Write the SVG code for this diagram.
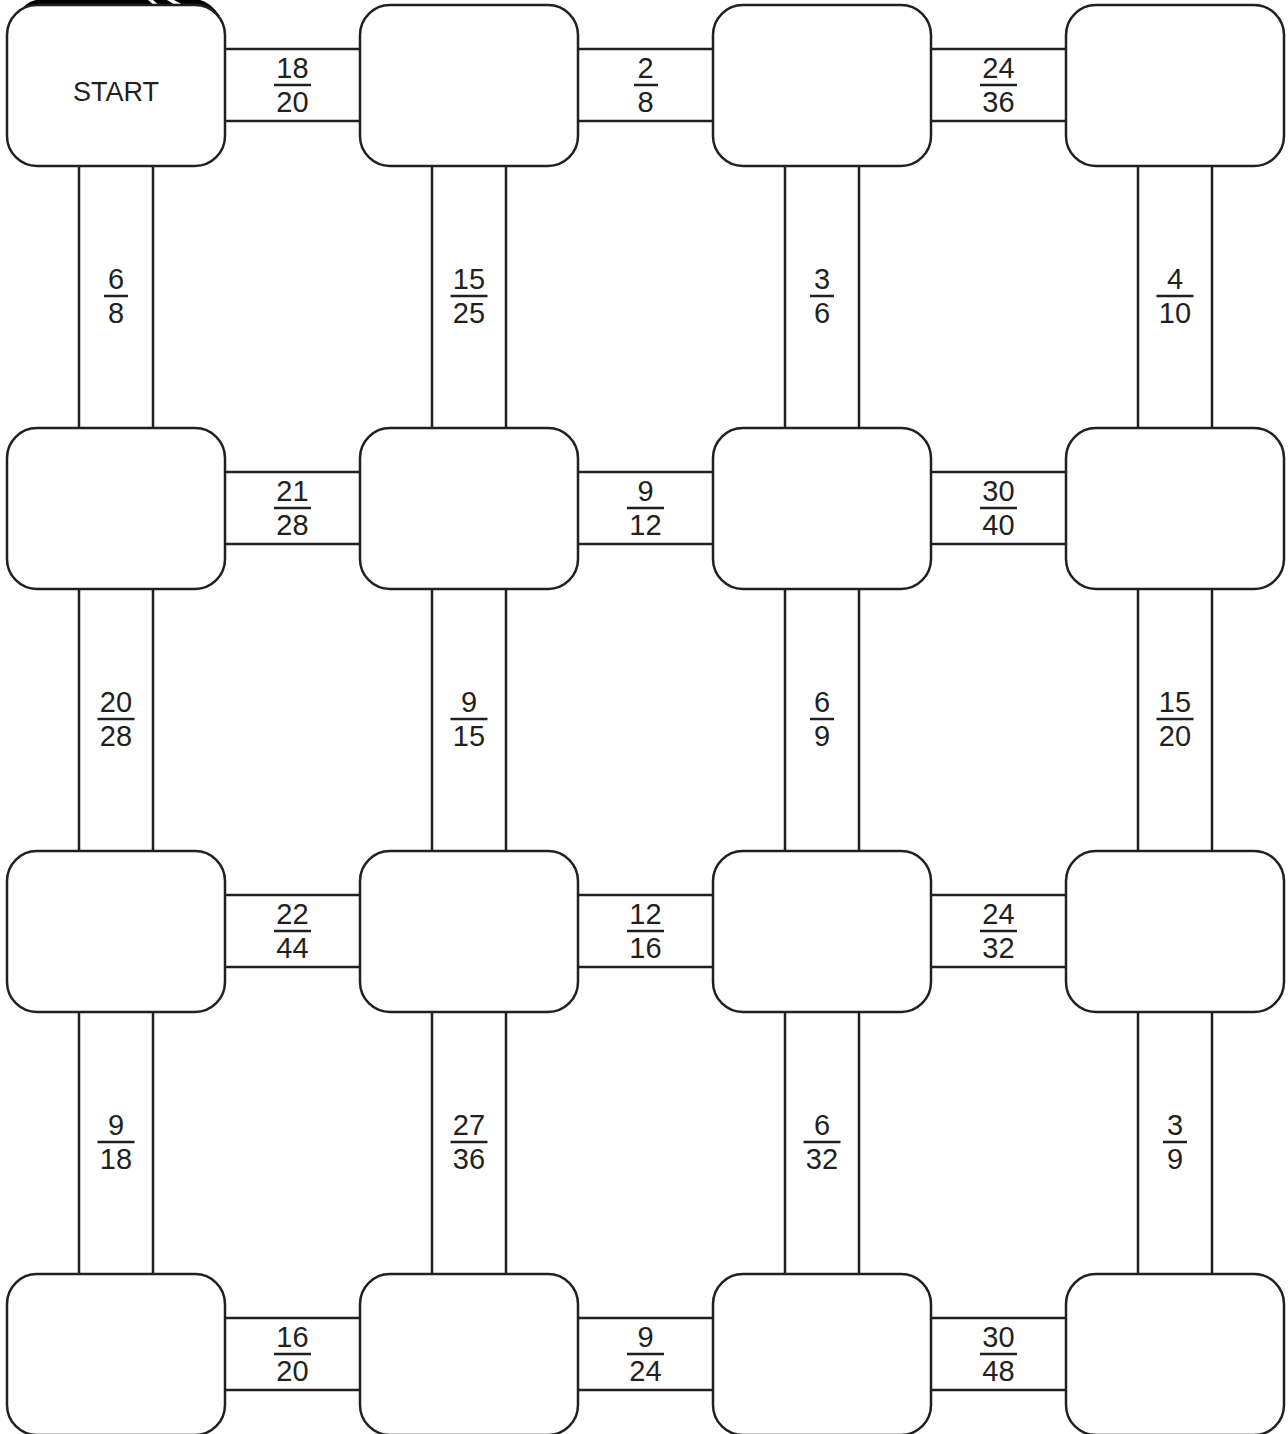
<svg xmlns="http://www.w3.org/2000/svg" width="1288" height="1434" viewBox="0 0 1288 1434">
<style>
.ln{stroke:#231f20;stroke-width:2.5;fill:none}
.nd{stroke:#231f20;stroke-width:2.5;fill:#fff}
.bar{stroke:#231f20;stroke-width:2.5}
.t{font-family:"Liberation Sans",Arial,sans-serif;font-size:29px;fill:#231f20;text-anchor:middle}
.s{font-family:"Liberation Sans",Arial,sans-serif;font-size:27px;fill:#231f20;text-anchor:middle}
</style>
<rect width="1288" height="1434" fill="#fff"/>
<g id="topmark">
<path d="M18,16 Q24,2 36,0 H200 Q210,2 220,16 Z" fill="#000"/>
<path d="M148,0 H153 L160,6 H155 Z" fill="#fff"/>
<path d="M167,0 H174 L185,6 H177 Z" fill="#fff"/>
</g>
<g id="connectors">
<g id="h-r0">
<path class="ln" d="M225,49H360M225,121H360M578,49H713M578,121H713M931,49H1066M931,121H1066"/>
<line class="bar" x1="274" y1="85" x2="311" y2="85"/><text class="t" x="292.5" y="78">18</text><text class="t" x="292.5" y="112">20</text>
<line class="bar" x1="634" y1="85" x2="658" y2="85"/><text class="t" x="645.5" y="78">2</text><text class="t" x="645.5" y="112">8</text>
<line class="bar" x1="980" y1="85" x2="1017" y2="85"/><text class="t" x="998.5" y="78">24</text><text class="t" x="998.5" y="112">36</text>
</g>
<g id="h-r1">
<path class="ln" d="M225,472H360M225,544H360M578,472H713M578,544H713M931,472H1066M931,544H1066"/>
<line class="bar" x1="274" y1="508" x2="311" y2="508"/><text class="t" x="292.5" y="501">21</text><text class="t" x="292.5" y="535">28</text>
<line class="bar" x1="627" y1="508" x2="664" y2="508"/><text class="t" x="645.5" y="501">9</text><text class="t" x="645.5" y="535">12</text>
<line class="bar" x1="980" y1="508" x2="1017" y2="508"/><text class="t" x="998.5" y="501">30</text><text class="t" x="998.5" y="535">40</text>
</g>
<g id="h-r2">
<path class="ln" d="M225,895H360M225,967H360M578,895H713M578,967H713M931,895H1066M931,967H1066"/>
<line class="bar" x1="274" y1="931" x2="311" y2="931"/><text class="t" x="292.5" y="924">22</text><text class="t" x="292.5" y="958">44</text>
<line class="bar" x1="627" y1="931" x2="664" y2="931"/><text class="t" x="645.5" y="924">12</text><text class="t" x="645.5" y="958">16</text>
<line class="bar" x1="980" y1="931" x2="1017" y2="931"/><text class="t" x="998.5" y="924">24</text><text class="t" x="998.5" y="958">32</text>
</g>
<g id="h-r3">
<path class="ln" d="M225,1318H360M225,1390H360M578,1318H713M578,1390H713M931,1318H1066M931,1390H1066"/>
<line class="bar" x1="274" y1="1354" x2="311" y2="1354"/><text class="t" x="292.5" y="1347">16</text><text class="t" x="292.5" y="1381">20</text>
<line class="bar" x1="627" y1="1354" x2="664" y2="1354"/><text class="t" x="645.5" y="1347">9</text><text class="t" x="645.5" y="1381">24</text>
<line class="bar" x1="980" y1="1354" x2="1017" y2="1354"/><text class="t" x="998.5" y="1347">30</text><text class="t" x="998.5" y="1381">48</text>
</g>
<g id="v-r0">
<path class="ln" d="M79,166V428M153,166V428M432,166V428M506,166V428M785,166V428M859,166V428M1138,166V428M1212,166V428"/>
<line class="bar" x1="104" y1="296" x2="128" y2="296"/><text class="t" x="116" y="289">6</text><text class="t" x="116" y="323">8</text>
<line class="bar" x1="450.5" y1="296" x2="487.5" y2="296"/><text class="t" x="469" y="289">15</text><text class="t" x="469" y="323">25</text>
<line class="bar" x1="810" y1="296" x2="834" y2="296"/><text class="t" x="822" y="289">3</text><text class="t" x="822" y="323">6</text>
<line class="bar" x1="1156.5" y1="296" x2="1193.5" y2="296"/><text class="t" x="1175" y="289">4</text><text class="t" x="1175" y="323">10</text>
</g>
<g id="v-r1">
<path class="ln" d="M79,589V851M153,589V851M432,589V851M506,589V851M785,589V851M859,589V851M1138,589V851M1212,589V851"/>
<line class="bar" x1="97.5" y1="719" x2="134.5" y2="719"/><text class="t" x="116" y="712">20</text><text class="t" x="116" y="746">28</text>
<line class="bar" x1="450.5" y1="719" x2="487.5" y2="719"/><text class="t" x="469" y="712">9</text><text class="t" x="469" y="746">15</text>
<line class="bar" x1="810" y1="719" x2="834" y2="719"/><text class="t" x="822" y="712">6</text><text class="t" x="822" y="746">9</text>
<line class="bar" x1="1156.5" y1="719" x2="1193.5" y2="719"/><text class="t" x="1175" y="712">15</text><text class="t" x="1175" y="746">20</text>
</g>
<g id="v-r2">
<path class="ln" d="M79,1012V1274M153,1012V1274M432,1012V1274M506,1012V1274M785,1012V1274M859,1012V1274M1138,1012V1274M1212,1012V1274"/>
<line class="bar" x1="97.5" y1="1142" x2="134.5" y2="1142"/><text class="t" x="116" y="1135">9</text><text class="t" x="116" y="1169">18</text>
<line class="bar" x1="450.5" y1="1142" x2="487.5" y2="1142"/><text class="t" x="469" y="1135">27</text><text class="t" x="469" y="1169">36</text>
<line class="bar" x1="803.5" y1="1142" x2="840.5" y2="1142"/><text class="t" x="822" y="1135">6</text><text class="t" x="822" y="1169">32</text>
<line class="bar" x1="1163" y1="1142" x2="1187" y2="1142"/><text class="t" x="1175" y="1135">3</text><text class="t" x="1175" y="1169">9</text>
</g>
</g>
<g id="nodes">
<g id="n00"><rect class="nd" x="7" y="5" width="218" height="161" rx="30"/><text class="s" x="116" y="101">START</text></g>
<g id="n01"><rect class="nd" x="360" y="5" width="218" height="161" rx="30"/></g>
<g id="n02"><rect class="nd" x="713" y="5" width="218" height="161" rx="30"/></g>
<g id="n03"><rect class="nd" x="1066" y="5" width="218" height="161" rx="30"/></g>
<g id="n10"><rect class="nd" x="7" y="428" width="218" height="161" rx="30"/></g>
<g id="n11"><rect class="nd" x="360" y="428" width="218" height="161" rx="30"/></g>
<g id="n12"><rect class="nd" x="713" y="428" width="218" height="161" rx="30"/></g>
<g id="n13"><rect class="nd" x="1066" y="428" width="218" height="161" rx="30"/></g>
<g id="n20"><rect class="nd" x="7" y="851" width="218" height="161" rx="30"/></g>
<g id="n21"><rect class="nd" x="360" y="851" width="218" height="161" rx="30"/></g>
<g id="n22"><rect class="nd" x="713" y="851" width="218" height="161" rx="30"/></g>
<g id="n23"><rect class="nd" x="1066" y="851" width="218" height="161" rx="30"/></g>
<g id="n30"><rect class="nd" x="7" y="1274" width="218" height="161" rx="30"/></g>
<g id="n31"><rect class="nd" x="360" y="1274" width="218" height="161" rx="30"/></g>
<g id="n32"><rect class="nd" x="713" y="1274" width="218" height="161" rx="30"/></g>
<g id="n33"><rect class="nd" x="1066" y="1274" width="218" height="161" rx="30"/></g>
</g>
</svg>
